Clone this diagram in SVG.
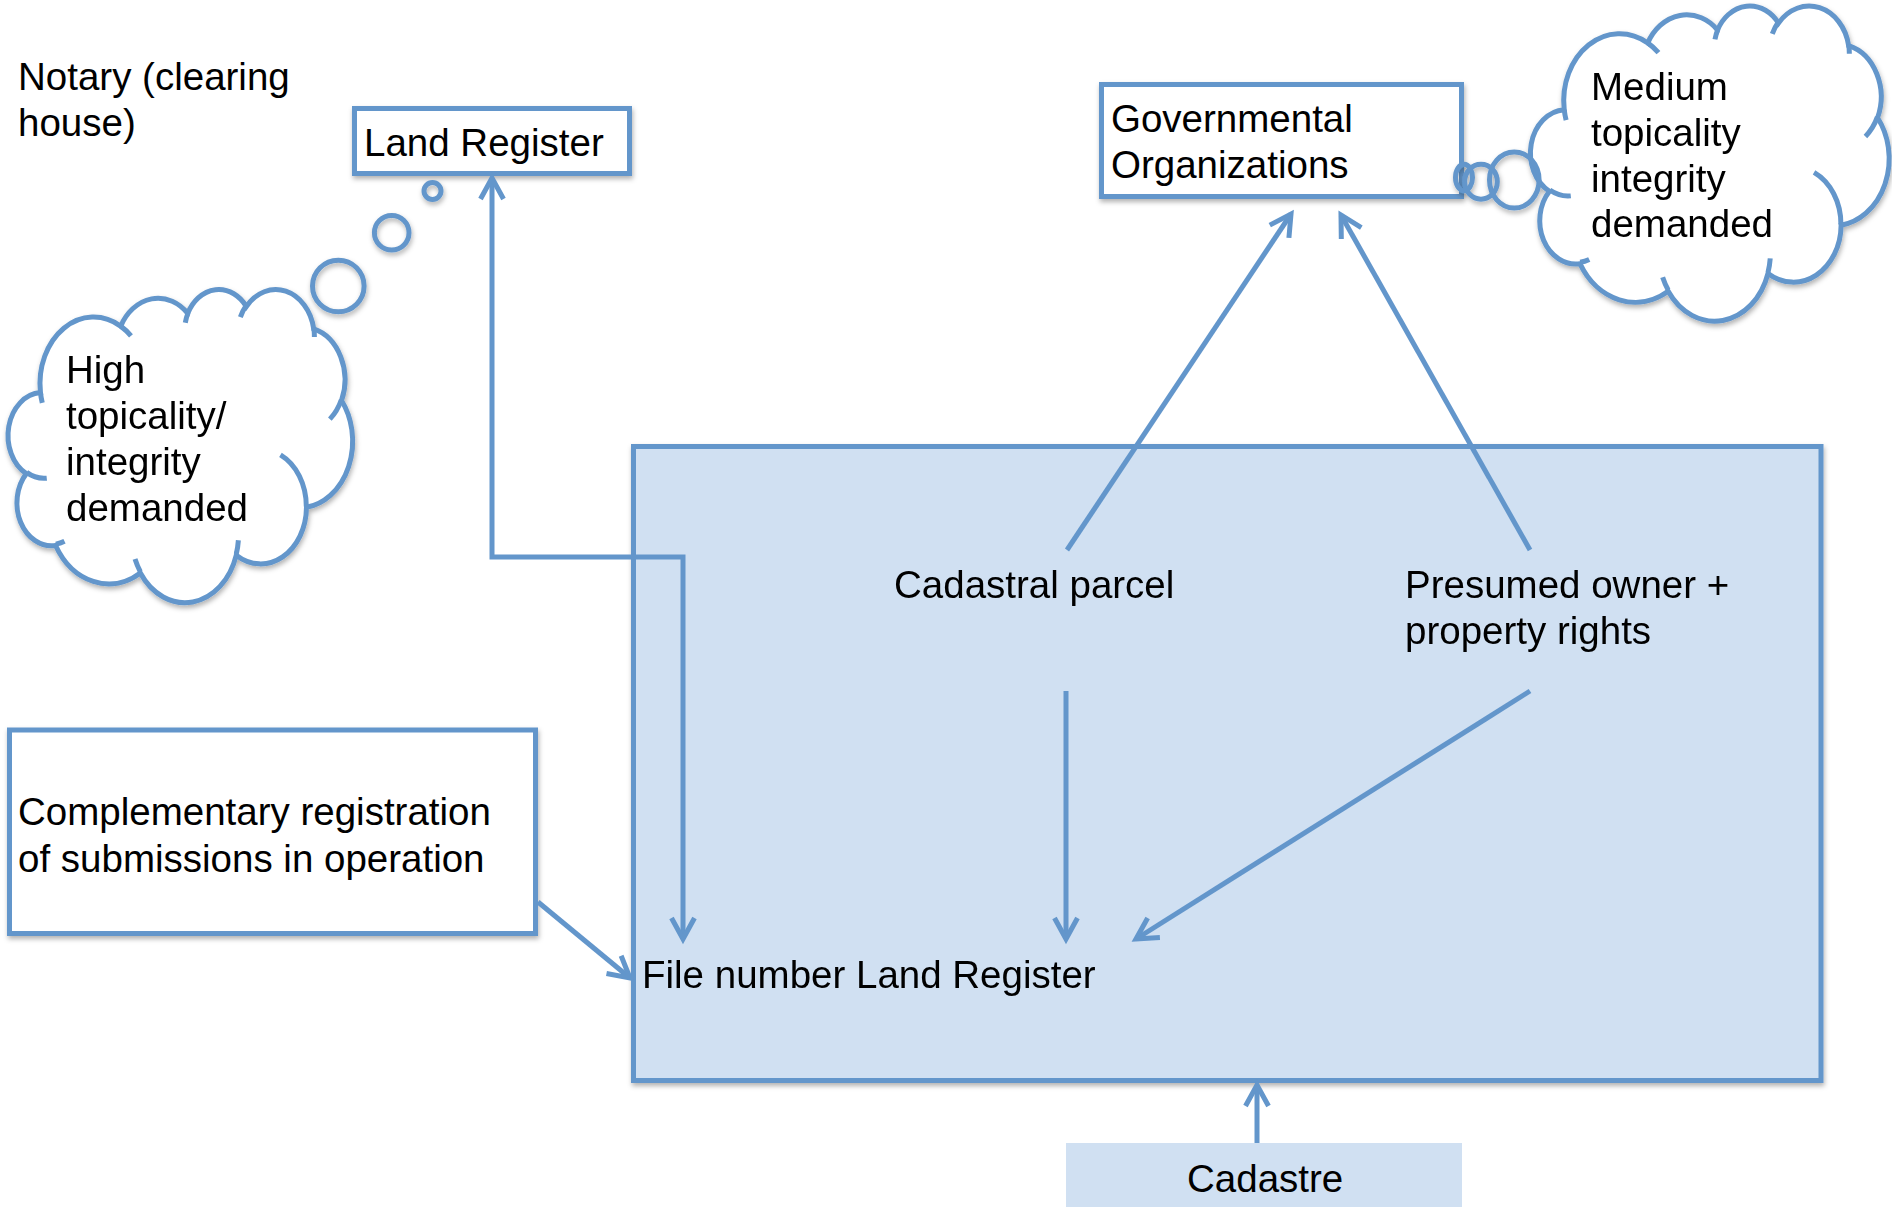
<svg xmlns="http://www.w3.org/2000/svg" xmlns:xlink="http://www.w3.org/1999/xlink" width="1892" height="1207" viewBox="0 0 1892 1207">
<style>
  text { font-family: "Liberation Sans", Arial, Helvetica, sans-serif; font-size: 38.5px; fill: #000; }
  .box { fill: #ffffff; stroke: #6396cb; stroke-width: 5; filter: url(#sh); }
  .main { fill: #d0e0f2; stroke: #6396cb; stroke-width: 5; filter: url(#sh); }
  .plain { fill: #d0e0f2; }
  .cloud { fill: #ffffff; stroke: #6396cb; stroke-width: 5; }
  .hook { fill: none; stroke: #6396cb; stroke-width: 5; }
  .bub { fill: none; stroke: #6396cb; stroke-width: 5; }
  .conn { fill: none; stroke: #6396cb; stroke-width: 5; marker-end: url(#arr); }
</style>
<defs>
  <filter id="sh" x="-10%" y="-10%" width="120%" height="130%">
    <feDropShadow dx="1" dy="3" stdDeviation="2.5" flood-color="#000" flood-opacity="0.3"/>
  </filter>
  <marker id="arr" markerUnits="userSpaceOnUse" markerWidth="40" markerHeight="40" viewBox="-30 -20 40 40" refX="0" refY="0" orient="auto-start-reverse">
    <path d="M-21 -11.5 L0 0 L-21 11.5" fill="none" stroke="#6396cb" stroke-width="5" stroke-linejoin="miter"/>
  </marker>
  <path id="cloudOutline" vector-effect="non-scaling-stroke" d="M3900 14370 A6753 9190 0 0 1 14003.6 5201.3 A5333 7267 0 0 1 22454.3 3432.8 A4365 5945 0 0 1 29831.6 2480.5 A4857 6595 0 0 1 38316.7 5576 A5333 7273 0 0 1 41817.2 15459.7 A6775 9220 0 0 1 37403.6 30203.4 A5785 7867 0 0 1 28556 36814.3 A6752 9215 0 0 1 16481.5 39268.4 A7720 10543 0 0 1 5803.3 35473.3 A4360 5918 0 0 1 2112.6 25550.8 A4345 5945 0 0 1 3900 14370 Z"/>
  <path id="cloudInner" vector-effect="non-scaling-stroke" d="M4693 26177 A4345 5945 0 0 1 2159.2 25379.5 M6928 34899 A4360 5918 0 0 1 5818.8 35280.8 M16478 39090 A6752 9215 0 0 1 15808.7 37346.9 M28827 34751 A6752 9215 0 0 1 28560.5 36659.2 M34129 22954 A5785 7867 0 0 1 37380.6 30089.6 M41798 15354 A5333 7273 0 0 1 40349.3 18030.8 M38324 5426 A4857 6595 0 0 1 38400.4 6689.5 M29078 3952 A4857 6595 0 0 1 29820 2339.4 M22141 4720 A4365 5945 0 0 1 22499.9 3330.8 M14000 5192 A6753 9190 0 0 1 15301.6 6541.5 M4127 15789 A6753 9190 0 0 1 3900.1 14369.9"/>
</defs>

<rect width="1892" height="1207" fill="#ffffff"/>

<g id="notary">
  <text x="18" y="90">Notary (clearing</text>
  <text x="18" y="136">house)</text>
</g>

<g id="main-box">
  <rect class="main" x="633.5" y="446.5" width="1187.5" height="634"/>
</g>

<g id="cadastre">
  <rect class="plain" x="1066" y="1143" width="396" height="64"/>
  <text x="1187" y="1192">Cadastre</text>
</g>

<g id="land-register">
  <rect class="box" x="354.5" y="108.5" width="275" height="65"/>
  <text x="364" y="156">Land Register</text>
</g>

<g id="governmental">
  <rect class="box" x="1101.5" y="84.5" width="360" height="112"/>
  <text x="1111" y="132">Governmental</text>
  <text x="1111" y="178">Organizations</text>
</g>

<g id="complementary">
  <rect class="box" x="9.5" y="730" width="526" height="203.5"/>
  <text x="18" y="825">Complementary registration</text>
  <text x="18" y="872">of submissions in operation</text>
</g>

<g id="cloud-high" filter="url(#sh)">
  <g transform="translate(9.5 288.5) scale(0.0079398 0.0072454)">
    <use xlink:href="#cloudOutline" class="cloud"/>
    <use xlink:href="#cloudInner" class="hook"/>
  </g>
  <circle class="bub" cx="432.5" cy="191" r="8.5"/>
  <circle class="bub" cx="391.7" cy="232.7" r="17.3"/>
  <circle class="bub" cx="338.3" cy="286" r="25.8"/>
</g>
<g id="cloud-high-text">
  <text x="66" y="383">High</text>
  <text x="66" y="429">topicality/</text>
  <text x="66" y="475">integrity</text>
  <text x="66" y="521">demanded</text>
</g>

<g id="cloud-medium" filter="url(#sh)">
  <g transform="translate(1532 5) scale(0.0082639 0.0072917)">
    <use xlink:href="#cloudOutline" class="cloud"/>
    <use xlink:href="#cloudInner" class="hook"/>
  </g>
  <ellipse class="bub" cx="1464" cy="177.5" rx="8.5" ry="13.3"/>
  <ellipse class="bub" cx="1481" cy="181.7" rx="16.3" ry="17.5"/>
  <ellipse class="bub" cx="1514.3" cy="180" rx="24.8" ry="28"/>
</g>
<g id="cloud-medium-text">
  <text x="1591" y="100">Medium</text>
  <text x="1591" y="146">topicality</text>
  <text x="1591" y="192">integrity</text>
  <text x="1591" y="237">demanded</text>
</g>

<g id="inner-labels">
  <text x="894" y="598">Cadastral parcel</text>
  <text x="1405" y="598">Presumed owner +</text>
  <text x="1405" y="644">property rights</text>
  <text x="642" y="988">File number Land Register</text>
</g>

<g id="connectors">
  <path class="conn" style="marker-start:url(#arr)" d="M492 178 L492 557 L683 557 L683 939"/>
  <path class="conn" d="M1067 550 L1291 214"/>
  <path class="conn" d="M1530 550 L1341 215"/>
  <path class="conn" d="M1066 691 L1066 939"/>
  <path class="conn" d="M1530 691 L1136 939"/>
  <path class="conn" d="M538 902 L630 978"/>
  <path class="conn" d="M1257 1143 L1257 1085"/>
</g>
</svg>
